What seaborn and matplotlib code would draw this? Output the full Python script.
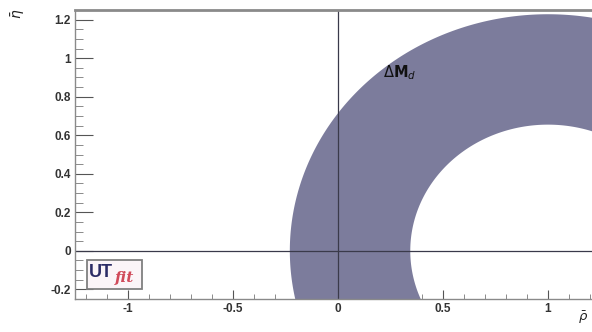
import numpy as np
import pandas as pd
import matplotlib
matplotlib.use("Agg")
import matplotlib.pyplot as plt
from matplotlib.patches import Rectangle
from matplotlib.ticker import MultipleLocator, FixedLocator
import seaborn as sns

# ---- data ----
constraint_label = r"$\Delta\mathbf{M}_{d}$"
ring_center_rho = 1.0
ring_center_eta = 0.0
ring_r_inner = 0.655
ring_r_outer = 1.228
x_ticks = [-1, -0.5, 0, 0.5, 1]
x_tick_labels = ["-1", "-0.5", "0", "0.5", "1"]
y_ticks = [-0.2, 0, 0.2, 0.4, 0.6, 0.8, 1, 1.2]
y_tick_labels = ["-0.2", "0", "0.2", "0.4", "0.6", "0.8", "1", "1.2"]
x_range = (-1.25, 1.25)
y_range = (-0.25, 1.25)

sns.set_theme(style="white")
plt.rcParams["font.family"] = ["Liberation Sans", "DejaVu Sans"]

fig = plt.figure(figsize=(5.92, 3.32), dpi=100)
ax = fig.add_axes([75 / 592, 33 / 332, 525.5 / 592, 289 / 332])

# ring (annulus) built in data coordinates
theta = np.linspace(0, 2 * np.pi, 600)
ring = pd.DataFrame({
    "rho": np.concatenate([ring_center_rho + ring_r_outer * np.cos(theta),
                           ring_center_rho + ring_r_inner * np.cos(theta[::-1])]),
    "eta": np.concatenate([ring_center_eta + ring_r_outer * np.sin(theta),
                           ring_center_eta + ring_r_inner * np.sin(theta[::-1])]),
})
ax.fill(ring["rho"], ring["eta"], color="#7c7c9c", lw=0, zorder=1)

ax.axhline(0, color="#3a3a4a", lw=0.9, zorder=2)
ax.axvline(0, color="#3a3a4a", lw=0.9, zorder=2)

ax.set_xlim(*x_range)
ax.set_ylim(*y_range)

ax.xaxis.set_major_locator(FixedLocator(x_ticks))
ax.set_xticklabels(x_tick_labels)
ax.yaxis.set_major_locator(FixedLocator(y_ticks))
ax.set_yticklabels(y_tick_labels)
ax.xaxis.set_minor_locator(MultipleLocator(0.1))
ax.yaxis.set_minor_locator(MultipleLocator(0.05))

ax.tick_params(axis="x", which="major", direction="in", length=6.5, width=0.8,
               color="#555555", labelsize=8.5, labelcolor="#333333", pad=3,
               top=False, bottom=True)
ax.tick_params(axis="x", which="minor", direction="in", length=3.5, width=0.6,
               color="#777777", top=False, bottom=True)
ax.tick_params(axis="y", which="major", direction="in", length=13, width=0.8,
               color="#555555", labelsize=8.5, labelcolor="#333333", pad=3,
               left=True, right=False)
ax.tick_params(axis="y", which="minor", direction="in", length=6, width=0.6,
               color="#777777", left=True, right=False)
for lab in ax.get_xticklabels() + ax.get_yticklabels():
    lab.set_fontweight("bold")

for side, sp in ax.spines.items():
    sp.set_color("#8a8a8a")
    sp.set_linewidth(1.0)
ax.spines["top"].set_linewidth(2.0)
ax.grid(False)

# constraint label
ax.text(0.215, 0.925, constraint_label, fontsize=10.5, color="#111111",
        ha="left", va="center", zorder=3)

# UTfit logo
ax.add_patch(Rectangle((-1.195, -0.197), 0.266, 0.15, facecolor="#fbf5f8",
                       edgecolor="#808080", lw=1.3, zorder=3))
ax.text(-1.185, -0.115, "UT", fontsize=13, fontweight="bold", color="#2c2c66",
        ha="left", va="center", zorder=4)
ax.text(-1.058, -0.14, "fit", fontsize=11, fontstyle="italic", fontweight="bold",
        color="#d04a5a", family=["DejaVu Serif"], ha="left", va="center", zorder=4)

# axis titles (ROOT style, at axis ends)
fig.text(18 / 592, 1 - 14 / 332, r"$\bar{\eta}$", rotation=90, fontsize=10,
         ha="center", va="center", color="#222222")
fig.text(588 / 592, 14 / 332, r"$\bar{\rho}$", fontsize=9.5,
         ha="right", va="center", color="#222222")

fig.savefig("out.png", dpi=100, facecolor="white")
